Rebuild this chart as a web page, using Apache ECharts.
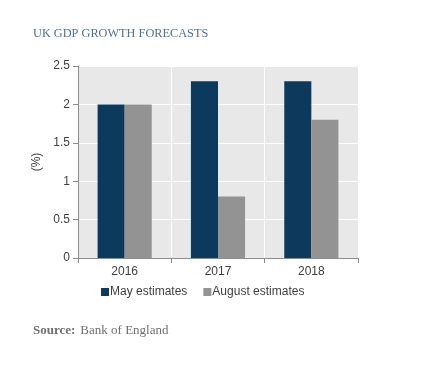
<!DOCTYPE html>
<html><head><meta charset="utf-8">
<script src="https://cdn.jsdelivr.net/npm/echarts@6/dist/echarts.min.js"></script>
<style>html,body{margin:0;padding:0;background:#fff}#c{width:425px;height:366px}</style>
</head><body><div id="c"></div>
<script>
var categories = ['2016', '2017', '2018'];
var mayEstimates = [2.0, 2.3, 2.3];
var augustEstimates = [2.0, 0.8, 1.8];
var yTicks = [0, 0.5, 1, 1.5, 2, 2.5];

var chart = echarts.init(document.getElementById('c'), null, {renderer: 'canvas'});
chart.setOption({
  animation: false,
  backgroundColor: '#ffffff',
  title: [
    {text: 'UK GDP GROWTH FORECASTS', left: 28, top: 23,
     textStyle: {fontFamily: 'Liberation Serif', fontSize: 12.3, fontWeight: 'normal', color: '#4d7197'}},
    {text: '{b|Source:} {n|Bank of England}', left: 28, top: 317,
     textStyle: {fontWeight: 'normal', rich: {
       b: {fontFamily: 'Liberation Serif', fontSize: 13, fontWeight: 'bold', color: '#6f6f6f'},
       n: {fontFamily: 'Liberation Serif', fontSize: 13, fontWeight: 'normal', color: '#6f6f6f'}}}}
  ],
  legend: {
    top: 281, left: 96, itemWidth: 8, itemHeight: 8, itemGap: 16,
    icon: 'rect',
    textStyle: {fontFamily: 'Liberation Sans', fontSize: 12, color: '#404040', padding: [0,0,0,-4]},
    data: ['May estimates', 'August estimates']
  },
  grid: {left: 78, right: 67, top: 66, bottom: 108, show: true, backgroundColor: '#e8e8e8', borderWidth: 0},
  xAxis: {
    type: 'category', data: categories,
    axisLine: {lineStyle: {color: '#8c8c8c'}},
    axisTick: {show: true, length: 5, lineStyle: {color: '#8c8c8c'}},
    splitLine: {show: true, lineStyle: {color: '#ffffff', width: 1}},
    axisLabel: {fontFamily: 'Liberation Sans', fontSize: 12, color: '#404040', margin: 8}
  },
  yAxis: {
    type: 'value', min: yTicks[0], max: yTicks[yTicks.length - 1], interval: 0.5,
    name: '(%)', nameLocation: 'middle', nameGap: 31, nameRotate: 90,
    nameTextStyle: {fontFamily: 'Liberation Sans', fontSize: 12, color: '#404040'},
    axisLine: {show: true, lineStyle: {color: '#8c8c8c'}},
    axisTick: {show: true, length: 5, lineStyle: {color: '#8c8c8c'}},
    splitLine: {show: true, lineStyle: {color: '#ffffff', width: 1}},
    axisLabel: {fontFamily: 'Liberation Sans', fontSize: 12, color: '#404040', margin: 8}
  },
  series: [
    {name: 'May estimates', type: 'bar', data: mayEstimates, barGap: '0%', barCategoryGap: '42%',
     itemStyle: {color: '#0b3a5d'}},
    {name: 'August estimates', type: 'bar', data: augustEstimates, barGap: '0%', barCategoryGap: '42%',
     itemStyle: {color: '#939393'}}
  ]
});
</script></body></html>
